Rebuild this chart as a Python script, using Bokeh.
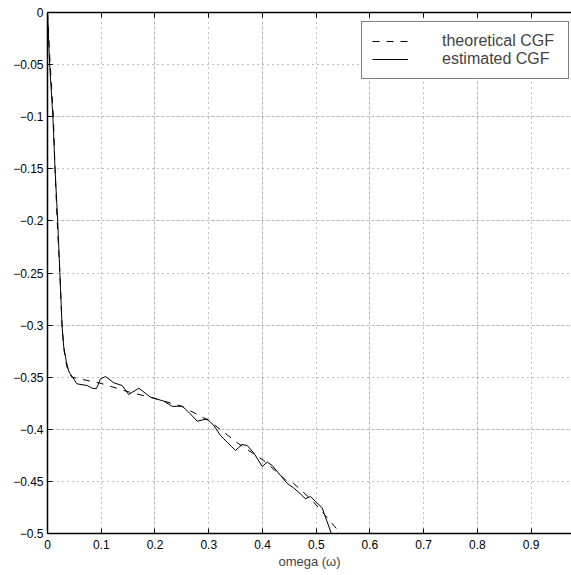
from bokeh.plotting import figure
from bokeh.models import LinearAxis, Legend, LegendItem, FixedTicker, CustomJSTickFormatter, Range1d, Grid
from bokeh.embed import file_html
from bokeh.resources import INLINE

# theoretical CGF (dashed)
theo_omega = [0.0, 0.005, 0.011, 0.014, 0.018, 0.023, 0.027, 0.031, 0.036, 0.045,
              0.1, 0.15, 0.2, 0.25, 0.3, 0.331, 0.356, 0.4025, 0.443, 0.458,
              0.4925, 0.517, 0.538]
theo_cgf = [0.0, -0.05, -0.1, -0.15, -0.2, -0.25, -0.3, -0.325, -0.34, -0.35,
            -0.356, -0.364, -0.3704, -0.378, -0.3916, -0.404, -0.414, -0.430, -0.4485, -0.452,
            -0.4683, -0.4827, -0.4955]

# estimated CGF (solid)
est_omega = [0.0, 0.004, 0.010, 0.014, 0.019, 0.023, 0.027, 0.030, 0.035, 0.040,
             0.055, 0.074, 0.083, 0.091, 0.0986, 0.108, 0.1234, 0.139, 0.151, 0.170,
             0.1917, 0.2165, 0.232, 0.2506, 0.263, 0.2785, 0.297, 0.3095, 0.322, 0.3344,
             0.3498, 0.362, 0.3716, 0.384, 0.3995, 0.4088, 0.418, 0.4336, 0.446, 0.458,
             0.4708, 0.480, 0.4894, 0.511, 0.528, 0.531]
est_cgf = [0.0, -0.05, -0.1, -0.15, -0.2, -0.25, -0.3, -0.32, -0.335, -0.345,
           -0.3564, -0.358, -0.3606, -0.361, -0.3516, -0.3494, -0.3554, -0.358, -0.3666, -0.3606,
           -0.3692, -0.373, -0.378, -0.3778, -0.3836, -0.3922, -0.390, -0.3964, -0.406, -0.4124,
           -0.4203, -0.4146, -0.4155, -0.4229, -0.4357, -0.4315, -0.4347, -0.4443, -0.452, -0.4562,
           -0.462, -0.4667, -0.4645, -0.4754, -0.4997, -0.503]

x_ticks = [0.0, 0.1, 0.2, 0.3, 0.4, 0.5, 0.6, 0.7, 0.8, 0.9]
y_ticks = [0.0, -0.05, -0.1, -0.15, -0.2, -0.25, -0.3, -0.35, -0.4, -0.45, -0.5]

FONT = "Liberation Sans"

p = figure(width=571, height=575, output_backend="svg", toolbar_location=None,
           x_range=Range1d(0, 0.975), y_range=Range1d(-0.5, 0),
           x_axis_location=None, y_axis_location=None,
           min_border_left=47, min_border_right=0, min_border_top=12, min_border_bottom=42)
p.outline_line_color = None
p.background_fill_color = "white"
p.border_fill_color = "white"

fmt = CustomJSTickFormatter(code="""
if (Math.abs(tick) < 1e-9) { return "0"; }
var s = Math.abs(tick).toFixed(2).replace(/0+$/, '').replace(/\\.$/, '');
return (tick < 0 ? "\\u2212" : "") + s;
""")
blank = CustomJSTickFormatter(code='return "";')

def style_axis(ax, ticks, formatter):
    ax.ticker = FixedTicker(ticks=ticks)
    ax.axis_line_color = "black"
    ax.axis_line_width = 1.5
    ax.major_tick_in = 5
    ax.major_tick_out = 0
    ax.major_tick_line_color = "black"
    ax.major_tick_line_width = 1
    ax.minor_tick_line_color = None
    ax.major_label_text_font = FONT
    ax.major_label_text_font_size = "12px"
    ax.major_label_text_color = "black"
    ax.formatter = formatter

xb = LinearAxis()
style_axis(xb, x_ticks, fmt)
xb.major_label_standoff = 6
xb.axis_label = "omega (\u03c9)"
xb.axis_label_text_font = FONT
xb.axis_label_text_font_size = "13px"
xb.axis_label_text_font_style = "normal"
xb.axis_label_standoff = 2
p.add_layout(xb, "below")

xt = LinearAxis()
style_axis(xt, x_ticks, blank)
xt.major_label_standoff = 0
p.add_layout(xt, "above")

yl = LinearAxis()
style_axis(yl, y_ticks, fmt)
yl.major_label_standoff = 4
p.add_layout(yl, "left")

gx = Grid(dimension=0, ticker=FixedTicker(ticks=x_ticks[1:]), grid_line_color="#808080",
          grid_line_dash="1 4", grid_line_width=1)
gy = Grid(dimension=1, ticker=FixedTicker(ticks=y_ticks[1:-1]), grid_line_color="#808080",
          grid_line_dash="1 4", grid_line_width=1)
p.add_layout(gx)
p.add_layout(gy)

r_theo = p.line(theo_omega, theo_cgf, line_color="black", line_width=1, line_dash="7 7")
r_est = p.line(est_omega, est_cgf, line_color="black", line_width=1)

legend = Legend(items=[LegendItem(label="theoretical CGF", renderers=[r_theo]),
                       LegendItem(label="estimated CGF", renderers=[r_est])],
                location=(314, 454), margin=0, padding=10, spacing=0,
                glyph_width=36, glyph_height=18, label_height=18, label_width=116,
                label_standoff=34,
                label_text_font=FONT, label_text_font_size="16px",
                border_line_color="black", border_line_width=1,
                background_fill_color="white", background_fill_alpha=1)
p.add_layout(legend)

open("out.html", "w").write(file_html(p, INLINE))
